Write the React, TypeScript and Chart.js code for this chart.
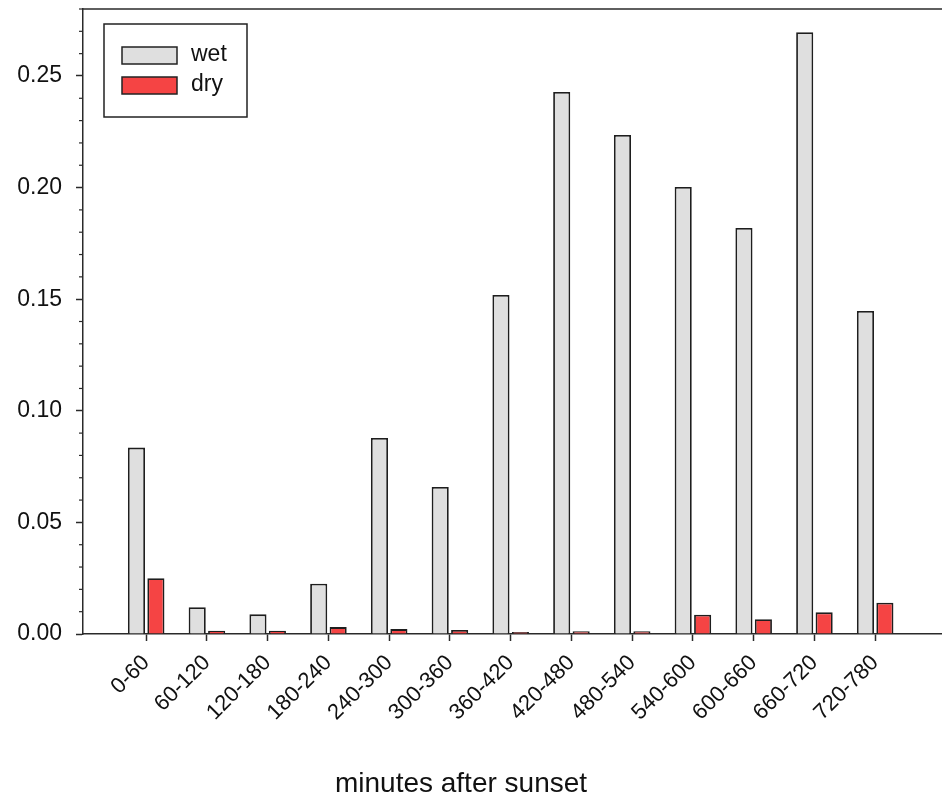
import React, { useEffect, useRef } from "react";
import { Chart, registerables } from "chart.js";

Chart.register(...registerables);

const categories = [
  "0-60", "60-120", "120-180", "180-240", "240-300", "300-360", "360-420",
  "420-480", "480-540", "540-600", "600-660", "660-720", "720-780",
];
const wetValues = [
  0.0835, 0.012, 0.0088, 0.0225, 0.0878, 0.0659, 0.1519,
  0.2428, 0.2236, 0.2003, 0.1819, 0.2696, 0.1447,
];
const dryValues = [
  0.025, 0.0015, 0.0015, 0.0031, 0.0022, 0.0018, 0.0009,
  0.0012, 0.0012, 0.0086, 0.0066, 0.0097, 0.014,
];
const yMajorTicks = [0, 0.05, 0.1, 0.15, 0.2, 0.25];
const xTitle = "minutes after sunset";

const FONT = "'Liberation Sans', Arial, sans-serif";
const AXIS = "#2a2a2a";

const decorPlugin = {
  id: "decor",
  afterDraw(chart: any) {
    const { ctx, chartArea } = chart;
    const y = chart.scales.y;
    ctx.save();
    ctx.strokeStyle = AXIS;
    ctx.lineWidth = 1.5;
    ctx.beginPath();
    ctx.moveTo(chartArea.left, chartArea.top);
    ctx.lineTo(chartArea.right, chartArea.top);
    ctx.stroke();
    ctx.lineWidth = 1.2;
    for (let k = 0; k <= 28; k++) {
      if (k % 5 === 0) continue;
      const py = y.getPixelForValue(k / 100);
      ctx.beginPath();
      ctx.moveTo(chartArea.left - 4, py);
      ctx.lineTo(chartArea.left, py);
      ctx.stroke();
    }
    const lx = chartArea.left + 21;
    const ly = chartArea.top + 15;
    ctx.fillStyle = "#ffffff";
    ctx.fillRect(lx, ly, 143, 93);
    ctx.strokeStyle = "#222";
    ctx.lineWidth = 1.5;
    ctx.strokeRect(lx, ly, 143, 93);
    chart.data.datasets.forEach((ds: any, i: number) => {
      const sy = ly + 23 + i * 30;
      ctx.fillStyle = ds.backgroundColor;
      ctx.fillRect(lx + 18, sy, 55, 17);
      ctx.strokeStyle = "#222";
      ctx.lineWidth = 1.5;
      ctx.strokeRect(lx + 18, sy, 55, 17);
      ctx.fillStyle = "#111";
      ctx.font = `23px ${FONT}`;
      ctx.textBaseline = "middle";
      ctx.textAlign = "left";
      ctx.fillText(ds.label, lx + 87, sy + 8);
    });
    ctx.fillStyle = "#111";
    ctx.font = `28px ${FONT}`;
    ctx.textAlign = "center";
    ctx.textBaseline = "middle";
    ctx.fillText(xTitle, chartArea.left + 378, chartArea.bottom + 150);
    ctx.restore();
  },
};

export default function App() {
  const ref = useRef<HTMLCanvasElement>(null);
  useEffect(() => {
    document.body.style.margin = "0";
    const chart = new Chart(ref.current!, {
      type: "bar",
      data: {
        datasets: [
          {
            label: "wet",
            data: categories.map((_, i) => ({ x: i, y: wetValues[i] })),
            backgroundColor: "#dfdfdf",
            borderColor: "#1e1e1e",
            borderWidth: 1.8,
          },
          {
            label: "dry",
            data: categories.map((_, i) => ({ x: i, y: dryValues[i] })),
            backgroundColor: "#f54444",
            borderColor: "#1e1e1e",
            borderWidth: 1.8,
          },
        ],
      },
      options: {
        animation: false,
        responsive: false,
        maintainAspectRatio: false,
        layout: { padding: { top: 9, left: 0, right: 0, bottom: 0 } },
        datasets: { bar: { categoryPercentage: 0.64, barPercentage: 0.88 } },
        plugins: { legend: { display: false }, tooltip: { enabled: false } },
        scales: {
          x: {
            type: "linear",
            offset: false,
            min: -1.04,
            max: 13.1,
            afterBuildTicks: (scale: any) => {
              scale.ticks = categories.map((_, i) => ({ value: i }));
            },
            afterFit: (scale: any) => {
              scale.height = 163;
              scale.paddingLeft = 0;
              scale.paddingRight = 0;
            },
            grid: {
              offset: false,
              drawOnChartArea: false,
              drawTicks: true,
              tickLength: 7,
              tickColor: AXIS,
              tickWidth: 1.5,
            },
            border: { color: AXIS, width: 1.5 },
            ticks: {
              autoSkip: false,
              minRotation: 45,
              maxRotation: 45,
              padding: 9,
              color: "#111",
              font: { family: FONT, size: 22 },
              callback: (v: any) => categories[v] ?? "",
            },
          },
          y: {
            min: 0,
            max: 0.28,
            afterBuildTicks: (scale: any) => {
              scale.ticks = yMajorTicks.map((v) => ({ value: v }));
            },
            afterFit: (scale: any) => {
              scale.width = 83;
              scale.paddingTop = 0;
              scale.paddingBottom = 0;
            },
            grid: {
              drawOnChartArea: false,
              drawTicks: true,
              tickLength: 7,
              tickColor: AXIS,
              tickWidth: 1.5,
            },
            border: { color: AXIS, width: 1.5 },
            ticks: {
              autoSkip: false,
              padding: 14,
              color: "#111",
              font: { family: FONT, size: 23 },
              callback: (v: any) => Number(v).toFixed(2),
            },
          },
        },
      },
      plugins: [decorPlugin],
    });
    return () => chart.destroy();
  }, []);
  return (
    <div style={{ width: 942, height: 797 }}>
      <canvas ref={ref} width={942} height={797} style={{ display: "block" }} />
    </div>
  );
}
